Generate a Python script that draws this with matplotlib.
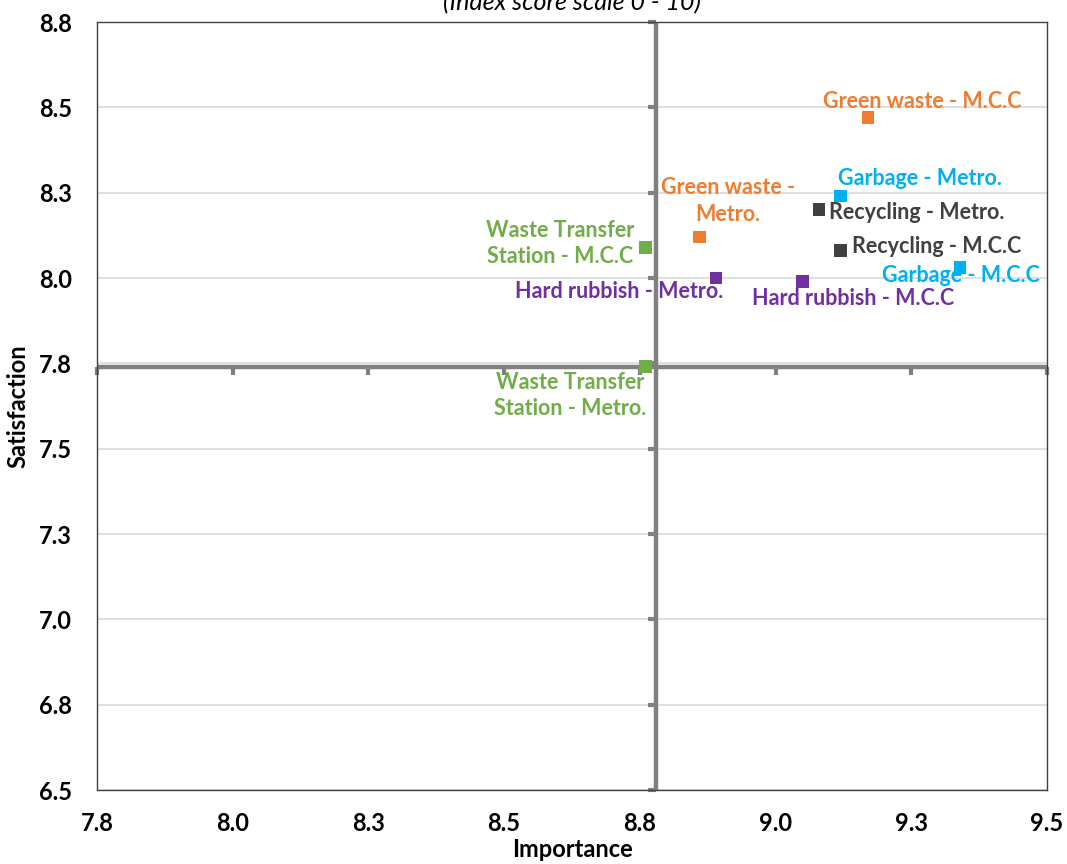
import numpy as np
import matplotlib.pyplot as plt

# data
labels = [
    "Green waste - M.C.C",
    "Green waste -\nMetro.",
    "Garbage - Metro.",
    "Recycling - Metro.",
    "Recycling - M.C.C",
    "Garbage - M.C.C",
    "Hard rubbish - M.C.C",
    "Hard rubbish - Metro.",
    "Waste Transfer\nStation - M.C.C",
    "Waste Transfer\nStation - Metro.",
]
importance = [9.17, 8.86, 9.12, 9.08, 9.12, 9.34, 9.05, 8.89, 8.76, 8.76]
satisfaction = [8.47, 8.12, 8.24, 8.20, 8.08, 8.03, 7.99, 8.00, 8.09, 7.74]
colors = ["#ED7D31", "#ED7D31", "#00B0F0", "#404040", "#404040",
          "#00B0F0", "#7030A0", "#7030A0", "#70AD47", "#70AD47"]

x_ticks = [7.75, 8.0, 8.25, 8.5, 8.75, 9.0, 9.25, 9.5]
x_tick_labels = ["7.8", "8.0", "8.3", "8.5", "8.8", "9.0", "9.3", "9.5"]
y_ticks = [6.5, 6.75, 7.0, 7.25, 7.5, 7.75, 8.0, 8.25, 8.5, 8.75]
y_tick_labels = ["6.5", "6.8", "7.0", "7.3", "7.5", "7.8", "8.0", "8.3", "8.5", "8.8"]

imp_cross = 8.78
sat_cross = 7.74

# label offsets (pixels, from the marker centre)
offsets = [(54, 16), (28, 36), (79, 18), (98, -3), (96, 4),
           (1, -8), (50, -17), (-97, -14), (-85, 4), (-75, -29)]

plt.rcParams["font.family"] = ["Lato", "DejaVu Sans"]

fig = plt.figure(figsize=(10.67, 8.64), dpi=100)
ax = fig.add_axes([97/1067, 74/864, 950/1067, 768/864])

ax.set_xlim(7.75, 9.5)
ax.set_ylim(6.5, 8.75)
ax.set_xticks(x_ticks)
ax.set_xticklabels(x_tick_labels, fontsize=17, fontweight="bold")
ax.set_yticks(y_ticks)
ax.set_yticklabels(y_tick_labels, fontsize=17, fontweight="bold")
ax.tick_params(axis="y", length=0, pad=18)
ax.tick_params(axis="x", length=0, pad=16)
ax.yaxis.grid(True, color="#D9D9D9", linewidth=1.2)
ax.set_axisbelow(True)
for s in ax.spines.values():
    s.set_color("#404040")
    s.set_linewidth(1.0)

# crossing axes
gray = "#808080"
ax.axvline(imp_cross, color=gray, linewidth=3.2, zorder=2)
ax.axhline(sat_cross, color=gray, linewidth=3.2, zorder=2)
ax.plot([imp_cross]*len(y_ticks), y_ticks, ls="none", marker=0,
        markersize=6, mew=3, color=gray, zorder=2, clip_on=False)
ax.plot(x_ticks, [sat_cross]*len(x_ticks), ls="none", marker=3,
        markersize=6, mew=3, color=gray, zorder=2, clip_on=False)

ax.scatter(importance, satisfaction, marker="s", s=82, c=colors,
           linewidths=0, zorder=3)

for lab, xi, yi, c, off in zip(labels, importance, satisfaction, colors, offsets):
    ax.annotate(lab, (xi, yi), xytext=off, textcoords="offset pixels",
                ha="center", va="center", multialignment="center",
                fontsize=15.5, fontweight="bold", color=c,
                linespacing=1.3, zorder=4)

ax.set_xlabel("Importance", fontsize=17, fontweight="bold")
ax.set_ylabel("Satisfaction", fontsize=17, fontweight="bold")
ax.xaxis.set_label_coords(0.5, -0.078)
ax.xaxis.label.set_va("center")
ax.yaxis.set_label_coords(-0.083, 0.5)
ax.yaxis.label.set_va("center")
fig.text(572/1067, 1 - 3/864, "(Index score scale 0 - 10)", ha="center",
         va="center", fontsize=18, style="italic")

fig.savefig("out.png", dpi=100)
